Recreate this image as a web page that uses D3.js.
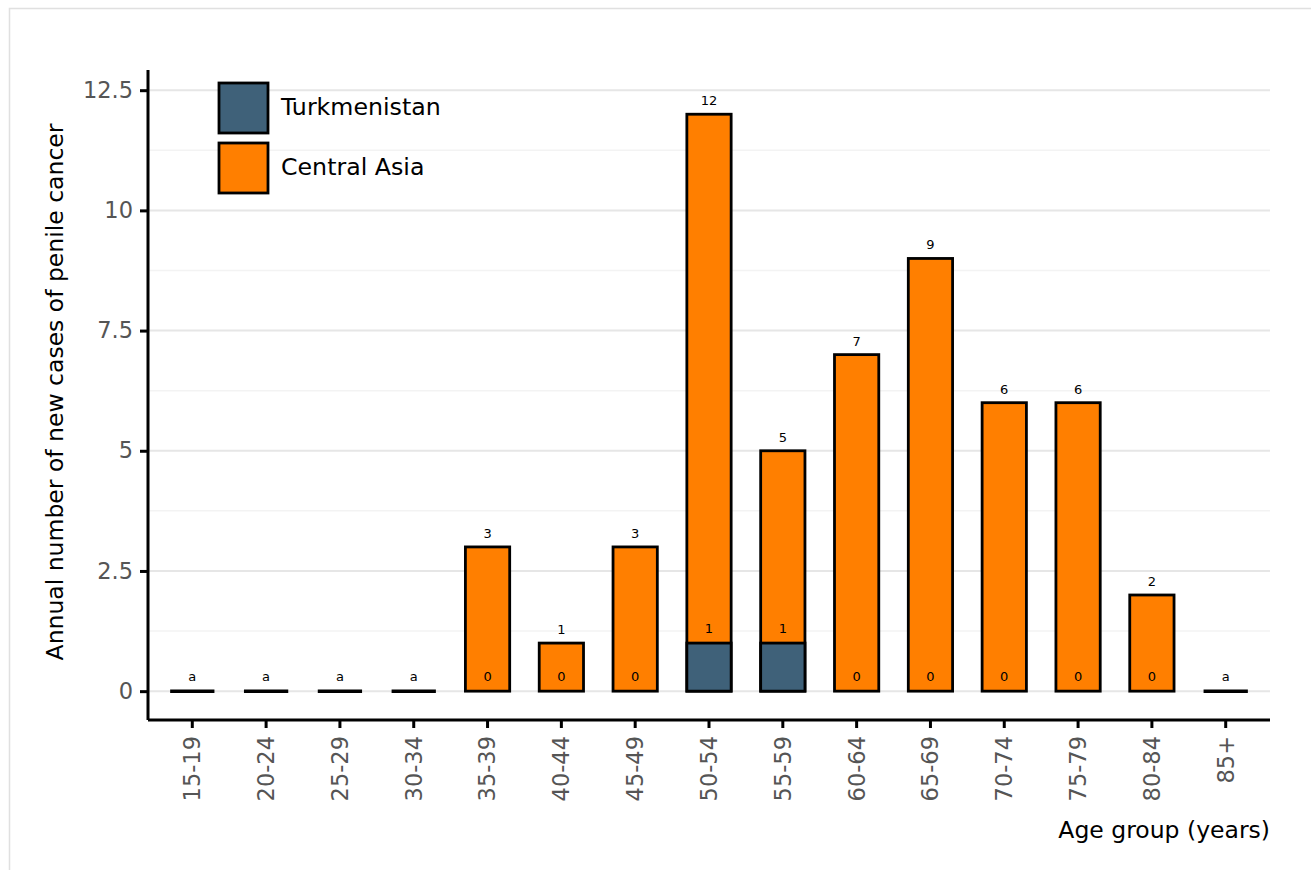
<!DOCTYPE html>
<html><head><meta charset="utf-8">
<script src="https://cdn.jsdelivr.net/npm/d3@7"></script>
<style>body{margin:0;background:#fff;}svg{display:block;font-family:"DejaVu Sans",sans-serif;}</style>
</head><body>
<svg id="c" width="1311" height="870"></svg>
<script>
const categories = ["15-19","20-24","25-29","30-34","35-39","40-44","45-49","50-54","55-59","60-64","65-69","70-74","75-79","80-84","85+"];
const centralAsia = [0,0,0,0,3,1,3,12,5,7,9,6,6,2,0];
const turkmenistan = [0,0,0,0,0,0,0,1,1,0,0,0,0,0,0];
const missing = [true,true,true,true,false,false,false,false,false,false,false,false,false,false,true];
const yTicks = [0,2.5,5,7.5,10,12.5];
const yTickLabels = ["0","2.5","5","7.5","10","12.5"];
const seriesNames = ["Turkmenistan","Central Asia"];
const colors = {"Turkmenistan":"#3f6179","Central Asia":"#ff7f00"};

const svg = d3.select("#c");
svg.append("rect").attr("x",9.5).attr("y",8.5).attr("width",1330).attr("height",900)
  .attr("fill","none").attr("stroke","#e0e0e0").attr("stroke-width",1.5);

const L=148, R=1270, T=70, B=720;
const x = d3.scaleBand().domain(categories).range([L,R]).paddingInner(0.4).paddingOuter(0.3);
const y = d3.scaleLinear().domain([-0.6,12.92]).range([B,T]);

// minor grid
const minor = d3.range(1.25,12.6,2.5);
svg.append("g").selectAll("line").data(minor).join("line")
  .attr("x1",L).attr("x2",R).attr("y1",d=>y(d)).attr("y2",d=>y(d))
  .attr("stroke","#f3f3f3").attr("stroke-width",1.5);
svg.append("g").selectAll("line").data(yTicks).join("line")
  .attr("x1",L).attr("x2",R).attr("y1",d=>y(d)).attr("y2",d=>y(d))
  .attr("stroke","#e6e6e6").attr("stroke-width",2);

// axes
const ya = svg.append("g").attr("transform",`translate(${L},0)`)
  .call(d3.axisLeft(y).tickValues(yTicks).tickFormat((d,i)=>yTickLabels[i]).tickSize(8).tickPadding(7));
const xa = svg.append("g").attr("transform",`translate(0,${B})`)
  .call(d3.axisBottom(x).tickSize(8).tickPadding(6));
[ya,xa].forEach(a=>{
  a.select(".domain").attr("stroke","#000").attr("stroke-width",3);
  a.selectAll(".tick line").attr("stroke","#000").attr("stroke-width",3);
  a.selectAll(".tick text").attr("fill","#555").attr("font-size",22.5).attr("font-family","DejaVu Sans");
});
ya.select(".domain").attr("d",`M0,${B}V${T}`);
xa.select(".domain").attr("d",`M${L},0H${R}`);
xa.selectAll(".tick text").attr("transform","rotate(-90)").attr("text-anchor","end")
  .attr("x",-16).attr("y",0).attr("dy","0.35em");

const bw = x.bandwidth();
const idx = d3.range(categories.length);
const real = idx.filter(i=>!missing[i]);
// Central Asia bars
svg.append("g").selectAll("rect").data(real).join("rect")
  .attr("x",i=>x(categories[i])).attr("width",bw)
  .attr("y",i=>y(centralAsia[i])).attr("height",i=>y(0)-y(centralAsia[i]))
  .attr("fill",colors["Central Asia"]).attr("stroke","#000").attr("stroke-width",2.8);
// Turkmenistan bars
svg.append("g").selectAll("rect").data(real.filter(i=>turkmenistan[i]>0)).join("rect")
  .attr("x",i=>x(categories[i])).attr("width",bw)
  .attr("y",i=>y(turkmenistan[i])).attr("height",i=>y(0)-y(turkmenistan[i]))
  .attr("fill",colors["Turkmenistan"]).attr("stroke","#000").attr("stroke-width",2.8);
// missing dashes
svg.append("g").selectAll("line").data(idx.filter(i=>missing[i])).join("line")
  .attr("x1",i=>x(categories[i])).attr("x2",i=>x(categories[i])+bw)
  .attr("y1",y(0)).attr("y2",y(0)).attr("stroke","#000").attr("stroke-width",3.5);

// labels
const lab = svg.append("g").attr("font-size",13).attr("fill","#000").attr("text-anchor","middle");
lab.selectAll("text.top").data(real).join("text").attr("class","top")
  .attr("x",i=>x(categories[i])+bw/2).attr("y",i=>y(centralAsia[i])-9).text(i=>centralAsia[i]);
lab.selectAll("text.bot").data(idx).join("text").attr("class","bot")
  .attr("x",i=>x(categories[i])+bw/2).attr("y",i=>y(turkmenistan[i])-10)
  .text(i=>missing[i]?"a":turkmenistan[i]);

// legend
const lg = svg.append("g");
seriesNames.forEach((s,k)=>{
  lg.append("rect").attr("x",219).attr("y",83+k*60).attr("width",49).attr("height",50)
    .attr("fill",colors[s]).attr("stroke","#000").attr("stroke-width",2.8);
  lg.append("text").attr("x",281).attr("y",107+k*60).attr("dy","0.35em")
    .attr("font-size",23.7).attr("fill","#000").text(s);
});

// titles
svg.append("text").attr("transform",`translate(63,${(T+B)/2-3}) rotate(-90)`)
  .attr("text-anchor","middle").attr("font-size",23.5).attr("fill","#000")
  .text("Annual number of new cases of penile cancer");
svg.append("text").attr("x",R).attr("y",838).attr("text-anchor","end")
  .attr("font-size",23.5).attr("fill","#000").text("Age group (years)");
</script>
</body></html>
